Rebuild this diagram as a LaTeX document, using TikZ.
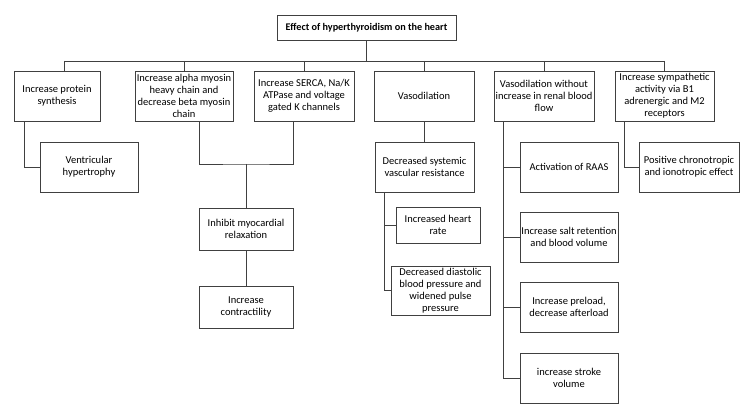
\documentclass[tikz,border=0pt]{standalone}
\usepackage{fontspec}
\setmainfont{Carlito}
\begin{document}
\begin{tikzpicture}[x=1pt,y=-1pt,
  box/.style={draw=black!75, line width=0.8pt, fill=white, align=center, inner sep=0.3pt,
    font=\fontsize{10.5}{12}\selectfont, text=black},
  conn/.style={draw=black!75, line width=0.8pt}]
\useasboundingbox[fill=white] (0,0) rectangle (750,417);
% level 0
\node[box, minimum width=179, minimum height=25, font=\fontsize{10.2}{12}\selectfont\bfseries] (title) at (366.5,27.5) {Effect of hyperthyroidism on the heart};
% level 1
\node[box, minimum width=86, minimum height=50] (b1) at (57,96) {Increase protein\\synthesis};
\node[box, minimum width=98, minimum height=50] (b2) at (184,96) {Increase alpha myosin\\heavy chain and\\decrease beta myosin\\chain};
\node[box, minimum width=100, minimum height=50] (b3) at (304,96) {Increase SERCA, Na/K\\ATPase and voltage\\gated K channels};
\node[box, minimum width=100, minimum height=50] (b4) at (424,96) {Vasodilation};
\node[box, minimum width=100, minimum height=50] (b5) at (544,96) {Vasodilation without\\increase in renal blood\\flow};
\node[box, minimum width=99, minimum height=50] (b6) at (664.5,96) {Increase sympathetic\\activity via B1\\adrenergic and M2\\receptors};
% level 2+
\node[box, minimum width=98, minimum height=50] (vent) at (89,167) {Ventricular\\hypertrophy};
\node[box, minimum width=94, minimum height=42] (inhibit) at (246,229) {Inhibit myocardial\\relaxation};
\node[box, minimum width=94, minimum height=42] (contract) at (246,307) {Increase\\contractility};
\node[box, minimum width=99, minimum height=50] (dsvr) at (424.5,167) {Decreased systemic\\vascular resistance};
\node[box, minimum width=84, minimum height=36] (hr) at (438,225) {Increased heart\\rate};
\node[box, minimum width=99, minimum height=49] (ddbp) at (440.5,290.5) {Decreased diastolic\\blood pressure and\\widened pulse\\pressure};
\node[box, minimum width=98, minimum height=50] (raas) at (569,167) {Activation of RAAS};
\node[box, minimum width=98, minimum height=50] (salt) at (569,237) {Increase salt retention\\and blood volume};
\node[box, minimum width=98, minimum height=50] (preload) at (569,307) {Increase preload,\\decrease afterload};
\node[box, minimum width=98, minimum height=50] (stroke) at (569,378) {increase stroke\\volume};
\node[box, minimum width=100, minimum height=50] (pos) at (689,167) {Positive chronotropic\\and ionotropic effect};
% bus coordinates
\coordinate (s1) at (64,61);
\coordinate (s2) at (184,61);
\coordinate (s3) at (304,61);
\coordinate (s4) at (424,61);
\coordinate (s5) at (544,61);
\coordinate (s6) at (664,61);
\coordinate (j23) at (246,164);
% connectors
\draw[conn] (title.south) -- (title.south |- s1);
\draw[conn] (s1) -- (s6);
\draw[conn] (s1) -- (s1 |- b1.north);
\draw[conn] (s2) -- (s2 |- b2.north);
\draw[conn] (s3) -- (s3 |- b3.north);
\draw[conn] (s4) -- (s4 |- b4.north);
\draw[conn] (s5) -- (s5 |- b5.north);
\draw[conn] (s6) -- (s6 |- b6.north);
\draw[conn] ([xshift=11pt]b1.south west) |- (vent.west);
\draw[conn] ([xshift=15pt]b2.south) |- (j23) -| ([xshift=-11pt]b3.south);
\draw[conn] (j23) -- (inhibit.north);
\draw[conn] (inhibit) -- (contract);
\draw[conn] (b4.south) -- (b4.south |- dsvr.north);
\draw[conn] ([xshift=10pt]dsvr.south west) |- (hr.west);
\draw[conn] ([xshift=10pt]dsvr.south west) |- (ddbp.west);
\draw[conn] ([xshift=10pt]b5.south west) |- (raas.west);
\draw[conn] ([xshift=10pt]b5.south west) |- (salt.west);
\draw[conn] ([xshift=10pt]b5.south west) |- (preload.west);
\draw[conn] ([xshift=10pt]b5.south west) |- (stroke.west);
\draw[conn] ([xshift=10pt]b6.south west) |- (pos.west);
\end{tikzpicture}
\end{document}
